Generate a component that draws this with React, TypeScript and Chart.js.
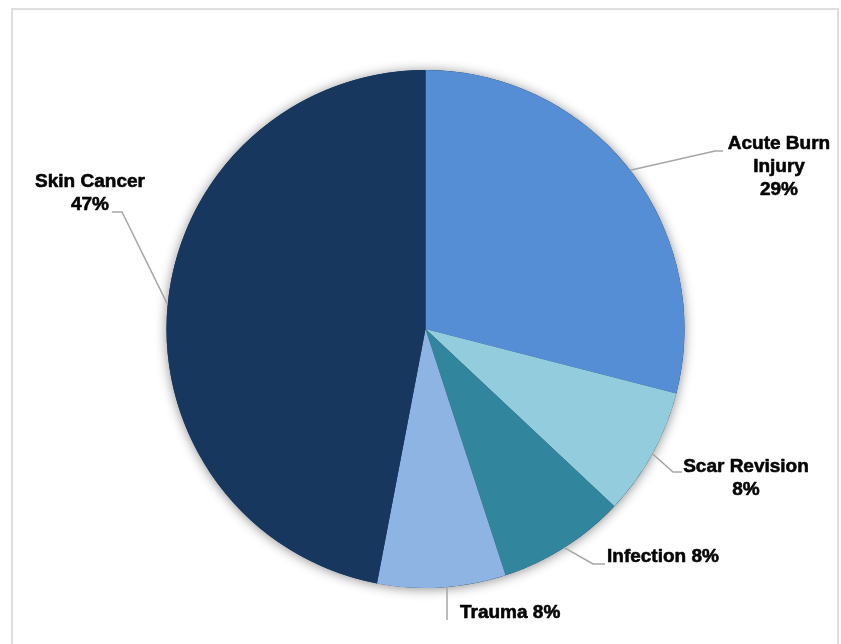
import React, { useEffect, useRef } from "react";
import { Chart, registerables } from "chart.js";

Chart.register(...registerables);

// Case mix by indication (percent of procedures)
const categories = ["Acute Burn Injury", "Scar Revision", "Infection", "Trauma", "Skin Cancer"];
const shares = [29, 8, 8, 8, 47];
const sliceColors = ["#558ED5", "#93CDDD", "#31859C", "#8EB4E3", "#17375E"];

// How each category name is broken over lines, and whether the percent sits on its own line
const nameLines = [["Acute Burn", "Injury"], ["Scar Revision"], ["Infection"], ["Trauma"], ["Skin Cancer"]];
const percentOnOwnLine = [true, true, false, false, true];

const W = 841;
const H = 644;

type Callout = {
  startX?: number;
  elbow: [number | null, number];
  end: [number, number] | null;
  text: [number, number];
  align: CanvasTextAlign;
};

// Callout geometry, as offsets from the pie centre
const callouts: Callout[] = [
  { elbow: [289.5, -178], end: [297.5, -178], text: [353.5, -185], align: "center" },
  { elbow: [247.5, 143], end: [256.5, 143], text: [320.5, 138], align: "center" },
  { elbow: [167.5, 235], end: [179.5, 235], text: [181.5, 228], align: "left" },
  { startX: 21.5, elbow: [null, 291], end: null, text: [34.5, 284], align: "left" },
  { elbow: [-303.5, -117], end: [-313.5, -117], text: [-335.5, -147], align: "center" },
];

const framePlugin = {
  id: "frame",
  beforeDraw(chart: Chart) {
    const ctx = chart.ctx;
    ctx.save();
    ctx.fillStyle = "#ffffff";
    ctx.fillRect(0, 0, W, H);
    ctx.strokeStyle = "#dedede";
    ctx.lineWidth = 2;
    ctx.beginPath();
    ctx.moveTo(12, H + 10);
    ctx.lineTo(12, 9);
    ctx.lineTo(838, 9);
    ctx.lineTo(838, H + 10);
    ctx.stroke();
    ctx.restore();
  },
};

const shadowPlugin = {
  id: "pieShadow",
  beforeDatasetsDraw(chart: Chart) {
    const arc: any = chart.getDatasetMeta(0).data[0];
    if (!arc) return;
    const ctx = chart.ctx;
    ctx.save();
    ctx.shadowColor = "rgba(0,0,0,0.45)";
    ctx.shadowBlur = 12;
    ctx.shadowOffsetX = 0;
    ctx.shadowOffsetY = 1;
    ctx.fillStyle = "#17375E";
    ctx.beginPath();
    ctx.arc(arc.x, arc.y, arc.outerRadius, 0, Math.PI * 2);
    ctx.fill();
    ctx.restore();
  },
};

const calloutPlugin = {
  id: "callouts",
  afterDatasetsDraw(chart: Chart) {
    const ctx = chart.ctx;
    const meta = chart.getDatasetMeta(0);
    const fontSize = 19;
    const lineHeight = 23;
    meta.data.forEach((el: any, i: number) => {
      const c = callouts[i];
      const cx = el.x;
      const cy = el.y;
      const r = el.outerRadius;
      let sx: number;
      let sy: number;
      if (c.startX !== undefined) {
        // leader leaves the rim at a fixed horizontal offset
        const mid = (el.startAngle + el.endAngle) / 2;
        sx = cx + c.startX;
        sy = cy + Math.sign(Math.sin(mid)) * Math.sqrt(r * r - c.startX * c.startX);
      } else {
        const mid = (el.startAngle + el.endAngle) / 2;
        sx = cx + Math.cos(mid) * r;
        sy = cy + Math.sin(mid) * r;
      }
      const ex = c.elbow[0] === null ? sx : cx + c.elbow[0];
      const ey = cy + c.elbow[1];

      ctx.save();
      ctx.strokeStyle = "#a6a6a6";
      ctx.lineWidth = 1.5;
      ctx.beginPath();
      ctx.moveTo(sx, sy);
      ctx.lineTo(ex, ey);
      if (c.end) ctx.lineTo(cx + c.end[0], cy + c.end[1]);
      ctx.stroke();

      const pct = `${shares[i]}%`;
      const lines = percentOnOwnLine[i]
        ? [...nameLines[i], pct]
        : [...nameLines[i].slice(0, -1), `${nameLines[i][nameLines[i].length - 1]} ${pct}`];
      ctx.fillStyle = "#050505";
      ctx.strokeStyle = "#050505";
      ctx.lineWidth = 0.6;
      ctx.lineJoin = "round";
      ctx.font = `bold ${fontSize}px "Liberation Sans", Arial, sans-serif`;
      ctx.textAlign = c.align;
      ctx.textBaseline = "middle";
      lines.forEach((t, k) => {
        const tx = cx + c.text[0];
        const ty = cy + c.text[1] + k * lineHeight;
        ctx.fillText(t, tx, ty);
        ctx.strokeText(t, tx, ty);
      });
      ctx.restore();
    });
  },
};

export default function App() {
  const canvasRef = useRef<HTMLCanvasElement | null>(null);

  useEffect(() => {
    if (!canvasRef.current) return;
    const chart = new Chart(canvasRef.current, {
      type: "pie",
      data: {
        labels: categories,
        datasets: [
          {
            data: shares,
            backgroundColor: sliceColors,
            borderWidth: 0,
            hoverOffset: 0,
          },
        ],
      },
      options: {
        responsive: false,
        animation: false,
        layout: { padding: { left: 166.5, right: 156.5, top: 70, bottom: 56 } },
        plugins: {
          legend: { display: false },
          tooltip: { enabled: false },
          title: { display: false },
        },
      },
      plugins: [framePlugin, shadowPlugin, calloutPlugin],
    });
    return () => chart.destroy();
  }, []);

  return (
    <div style={{ position: "fixed", left: 0, top: 0, width: W, height: H, background: "#fff" }}>
      <canvas ref={canvasRef} width={W} height={H} style={{ display: "block", width: W, height: H }} />
    </div>
  );
}
